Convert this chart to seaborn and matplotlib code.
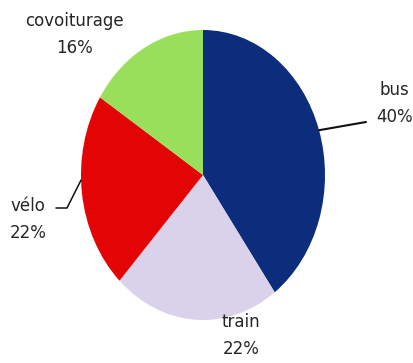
import numpy as np
import matplotlib
matplotlib.use("Agg")
import matplotlib.pyplot as plt
import seaborn as sns

# data
categories = ["bus", "train", "vélo", "covoiturage"]
values = [40, 22, 22, 16]
colors = ["#0C2C7C", "#DAD2EA", "#E30505", "#9ADF5C"]

sns.set_theme(style="white")
plt.rcParams['font.family'] = ['DejaVu Sans']

fig = plt.figure(figsize=(4.13, 3.63), dpi=100)
ax = fig.add_axes([0, 0, 1, 1])
ax.pie(values, colors=colors, startangle=90, counterclock=False,
       wedgeprops=dict(linewidth=0, edgecolor='none'))
ax.set_aspect('auto')
# pixel mapping: center (203,175), radii 122 x 145
ax.set_xlim(-203 / 122, 210 / 122)
ax.set_ylim((175 - 363) / 145, 175 / 145)
ax.axis('off')

tc = '#262626'
fs = 12
ls = 1.65

def lab(i):
    return f"{categories[i]}\n{values[i]}%"

cum = np.cumsum([0] + values)
mids = [90 - 360 * (cum[i] + cum[i + 1]) / 200 for i in range(len(values))]

def edge(i):
    a = np.deg2rad(mids[i])
    return np.cos(a), np.sin(a)

# bus
ax.text(1.57, 0.49, lab(0), ha='center', va='center', fontsize=fs, color=tc, linespacing=ls)
ex, ey = edge(0)
ax.plot([ex, (366 - 203) / 122], [ey, (175 - 122) / 145], color='#111111', lw=1.5)

# train
ax.text(0.31, -1.11, lab(1), ha='center', va='center', fontsize=fs, color=tc, linespacing=ls)

# velo
ax.text(-1.58, -0.31, lab(2), ha='left', va='center', fontsize=fs, color=tc, linespacing=ls)
ex, ey = -np.sqrt(1 - (5 / 145) ** 2), (175 - 180) / 145
ax.plot([(56 - 203) / 122, (67 - 203) / 122, ex],
        [(175 - 208) / 145, (175 - 208) / 145, ey], color='#111111', lw=1.1)

# covoiturage
ax.text(-1.05, 0.97, lab(3), ha='center', va='center', fontsize=fs, color=tc, linespacing=ls)

fig.savefig("out.png", dpi=100)
